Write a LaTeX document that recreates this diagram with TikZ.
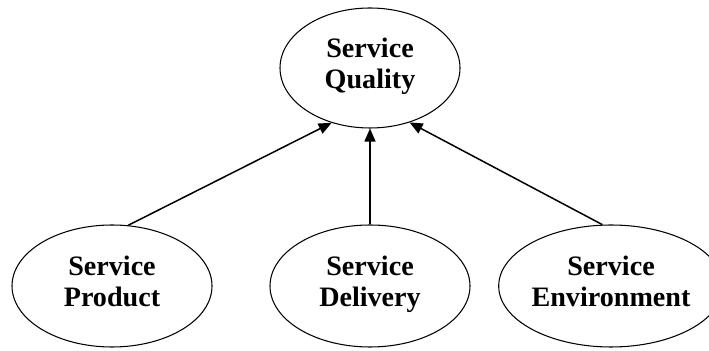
\documentclass[tikz,border=0pt]{standalone}
\usepackage{fontspec}
\setmainfont{Liberation Serif}
\usetikzlibrary{arrows.meta, shapes.geometric}

\begin{document}
\begin{tikzpicture}[>={Triangle[length=2.6mm, width=2.2mm]}, every node/.style={font=\fontsize{16}{18}\selectfont\bfseries},
  factor/.style={draw, ellipse, line width=0.6pt, align=center, inner sep=0pt, minimum width=4.0cm, minimum height=2.44cm, execute at end node=\strut}]
  \useasboundingbox (0,0) rectangle (14.18,7.02);
  \node[factor, minimum width=3.6cm, minimum height=2.4cm] (quality) at (7.40,5.66) {Service\\Quality};
  \node[factor] (product) at (2.24,1.30) {Service\\Product};
  \node[factor] (delivery) at (7.40,1.30) {Service\\Delivery};
  \node[factor, minimum width=3.96cm] (environment) at (12.22,1.30) {Service\\Environment};
  \draw[->, line width=0.85pt] (product.75) -- (quality.235);
  \draw[->, line width=0.85pt] (delivery.north) -- (quality.south);
  \draw[->, line width=0.85pt] (environment.98) -- (quality.306);
\end{tikzpicture}
\end{document}
